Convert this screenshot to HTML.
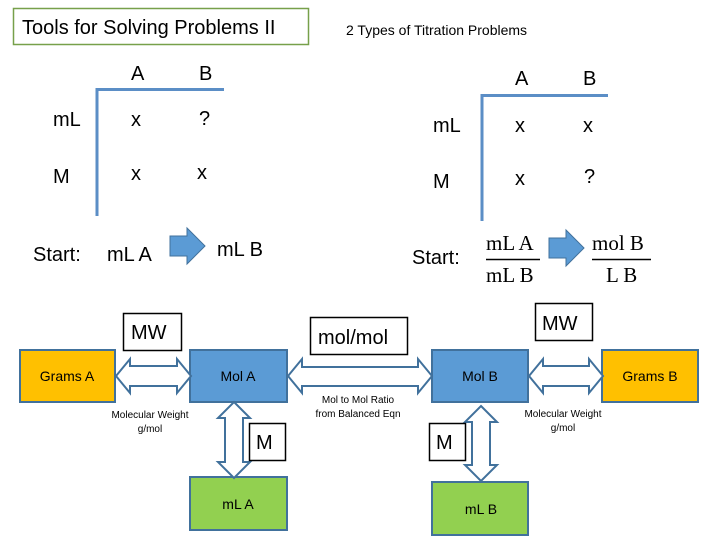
<!DOCTYPE html>
<html><head><style>body{margin:0;background:#fff}svg{display:block}</style></head><body>
<svg width="720" height="540" viewBox="0 0 720 540" xmlns="http://www.w3.org/2000/svg" font-family="Liberation Sans, sans-serif">
<rect x="13.5" y="8.5" width="295" height="36" fill="#fff" stroke="#77a04a" stroke-width="1.5"/>
<text x="22" y="34" font-size="20" fill="#000">Tools for Solving Problems II</text>
<text x="346" y="35" font-size="14" fill="#000">2 Types of Titration Problems</text>
<!-- left table -->
<g font-size="20" fill="#000">
<path d="M97 216V89.5H224" stroke="#5b8ec6" stroke-width="3" fill="none"/>
<text x="131" y="80">A</text><text x="199" y="80">B</text>
<text x="53" y="126">mL</text><text x="131" y="126">x</text><text x="199" y="125">?</text>
<text x="53" y="183">M</text><text x="131" y="180">x</text><text x="197" y="179">x</text>
<text x="33" y="261">Start:</text><text x="107" y="261">mL A</text><text x="217" y="256">mL B</text>
<path d="M170 236H187V228L205 246L187 264V256H170Z" fill="#5b9bd5" stroke="#41719c"/>
<!-- right table -->
<path d="M482 221V95.5H608" stroke="#5b8ec6" stroke-width="3" fill="none"/>
<text x="515" y="85">A</text><text x="583" y="85">B</text>
<text x="433" y="132">mL</text><text x="515" y="132">x</text><text x="583" y="132">x</text>
<text x="433" y="188">M</text><text x="515" y="185">x</text><text x="584" y="183">?</text>
<text x="412" y="264">Start:</text>
<path d="M549 238H566V230L584 248L566 266V258H549Z" fill="#5b9bd5" stroke="#41719c"/>
</g>
<g font-family="Liberation Serif, serif" font-size="21" fill="#000">
<text x="486" y="250">mL A</text><line x1="486" y1="259.5" x2="540" y2="259.5" stroke="#000" stroke-width="1.5"/><text x="486" y="282">mL B</text>
<text x="592" y="250">mol B</text><line x1="592" y1="259.5" x2="651" y2="259.5" stroke="#000" stroke-width="1.5"/><text x="606" y="282">L B</text>
</g>
<!-- bottom diagram -->
<g stroke="#41719c" stroke-width="2">
<rect x="20" y="350" width="95" height="52" fill="#ffc000"/>
<rect x="190" y="350" width="97" height="52" fill="#5b9bd5"/>
<rect x="432" y="350" width="96" height="52" fill="#5b9bd5"/>
<rect x="602" y="350" width="96" height="52" fill="#ffc000"/>
<rect x="190" y="477" width="97" height="53" fill="#92d050"/>
<rect x="432" y="482" width="96" height="53" fill="#92d050"/>
<path d="M116 376L130 359V366H177V359L191 376L177 393V386H130V393Z" fill="#fff"/>
<path d="M529 376L543 359V366H589V359L603 376L589 393V386H543V393Z" fill="#fff"/>
<path d="M288 376L302 359V367H418V359L432 376L418 393V386H302V393Z" fill="#fff"/>
<path d="M234 402L250 418H243V462H250L234 478L218 462H225V418H218Z" fill="#fff"/>
<path d="M481 406L497 422H490V465H497L481 481L465 465H472V422H465Z" fill="#fff"/>
</g>
<g fill="#fff" stroke="#000" stroke-width="1.5">
<rect x="123.5" y="313.5" width="58" height="37"/>
<rect x="310.5" y="317.5" width="97" height="37"/>
<rect x="535.5" y="303.5" width="57" height="37"/>
<rect x="249.5" y="423.5" width="36" height="37"/>
<rect x="429.5" y="423.5" width="36" height="37"/>
</g>
<g font-size="20" fill="#000">
<text x="131" y="339">MW</text><text x="318" y="344">mol/mol</text><text x="542" y="330">MW</text>
<text x="256" y="449">M</text><text x="436" y="449">M</text>
</g>
<g font-size="14" fill="#000" text-anchor="middle">
<text x="67" y="381">Grams A</text><text x="238" y="381">Mol A</text>
<text x="480" y="381">Mol B</text><text x="650" y="381">Grams B</text>
<text x="238" y="509">mL A</text><text x="481" y="514">mL B</text>
</g>
<g font-size="10" fill="#000" text-anchor="middle">
<text x="150" y="418">Molecular Weight</text><text x="150" y="432">g/mol</text>
<text x="358" y="403">Mol to Mol Ratio</text><text x="358" y="417">from Balanced Eqn</text>
<text x="563" y="417">Molecular Weight</text><text x="563" y="431">g/mol</text>
</g>
</svg>
</body></html>
